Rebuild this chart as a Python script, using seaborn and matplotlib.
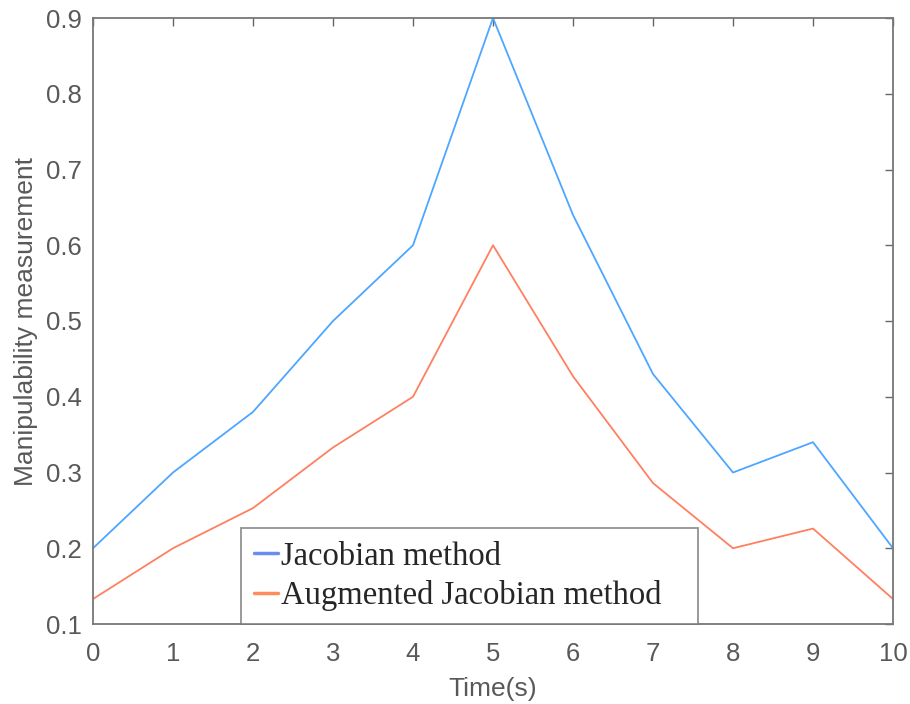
import matplotlib
matplotlib.use("Agg")
import matplotlib.pyplot as plt
import seaborn as sns
import pandas as pd

time_s = [0, 1, 2, 3, 4, 5, 6, 7, 8, 9, 10]
jacobian = [0.20, 0.30, 0.38, 0.50, 0.60, 0.90, 0.64, 0.43, 0.30, 0.34, 0.20]
augmented = [0.133, 0.20, 0.253, 0.333, 0.40, 0.60, 0.427, 0.286, 0.20, 0.226, 0.133]
series_names = ["Jacobian method", "Augmented Jacobian method"]
colors = ["#4da6ff", "#ff8060"]
legend_colors = ["#6a8ef0", "#ff8c5a"]

df = pd.DataFrame({
    "t": time_s * 2,
    "v": jacobian + augmented,
    "s": [series_names[0]] * len(time_s) + [series_names[1]] * len(time_s),
})

sns.set_style("white")
plt.rcParams['font.family'] = ['Liberation Sans', 'DejaVu Sans']

fig = plt.figure(figsize=(9.1, 7.04), dpi=100)
ax = fig.add_axes([93 / 910, 1 - 624 / 704, 800 / 910, 606 / 704])

sns.lineplot(data=df, x="t", y="v", hue="s", palette=colors, ax=ax, linewidth=1.3)

ax.set_xlim(0, 10)
ax.set_ylim(0.1, 0.9)
ax.set_xticks(time_s)
ax.set_yticks([0.1, 0.2, 0.3, 0.4, 0.5, 0.6, 0.7, 0.8, 0.9])
ax.set_yticklabels(["0.1", "0.2", "0.3", "0.4", "0.5", "0.6", "0.7", "0.8", "0.9"])
gray = "#595959"
ax.tick_params(direction="in", length=6, width=1, colors="#666666", labelcolor=gray,
               labelsize=18.5, top=True, right=True)
ax.tick_params(axis="x", pad=13)
ax.tick_params(axis="y", pad=8)
for sp in ax.spines.values():
    sp.set_color("#777777")
    sp.set_linewidth(1.3)
ax.set_xlabel("Time(s)", fontsize=19, color=gray, labelpad=8)
ax.set_ylabel("Manipulability measurement", fontsize=19, color=gray, labelpad=6)

leg = ax.legend(loc="lower left", bbox_to_anchor=(148 / 800, 0.0, 457 / 800, 0.1), mode="expand",
                frameon=True, fancybox=False,
                prop={"family": "Liberation Serif", "size": 23.5}, handlelength=0.72,
                handletextpad=0.1, borderpad=0.4, labelspacing=0.25, borderaxespad=0)
leg.get_frame().set_edgecolor("#777777")
leg.get_frame().set_linewidth(1.3)
for h, c in zip(leg.get_lines(), legend_colors):
    h.set_linewidth(2.5)
    h.set_color(c)

fig.savefig("out.png", dpi=100)
